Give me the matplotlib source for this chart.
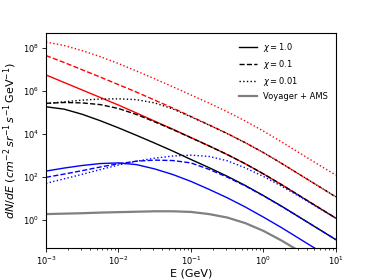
import numpy as np
import matplotlib
matplotlib.use('Agg')
import matplotlib.pyplot as plt

# energy grid, log10(E / GeV)
log_e = [-3.0, -2.75, -2.5, -2.25, -2.0, -1.75, -1.5, -1.25, -1.0,
         -0.75, -0.5, -0.25, 0.0, 0.25, 0.5, 0.75, 1.0]

# log10(dN/dE)
red_chi1 = [6.75, 6.40, 6.05, 5.70, 5.35, 4.98, 4.60, 4.23, 3.84,
            3.45, 3.05, 2.62, 2.15, 1.65, 1.13, 0.61, 0.09]
red_chi01 = [7.65, 7.33, 6.99, 6.65, 6.30, 5.95, 5.58, 5.21, 4.82,
             4.43, 4.03, 3.60, 3.14, 2.64, 2.12, 1.60, 1.08]
red_chi001 = [8.28, 8.12, 7.88, 7.60, 7.28, 6.93, 6.57, 6.20, 5.82,
              5.44, 5.04, 4.61, 4.14, 3.64, 3.12, 2.60, 2.09]

black_chi1 = [5.27, 5.16, 4.92, 4.62, 4.29, 3.94, 3.58, 3.21, 2.82,
              2.44, 2.04, 1.61, 1.14, 0.65, 0.13, -0.39, -0.91]
black_chi01 = [5.43, 5.47, 5.45, 5.37, 5.19, 4.91, 4.57, 4.21, 3.83,
               3.45, 3.05, 2.62, 2.15, 1.65, 1.13, 0.61, 0.09]
black_chi001 = [5.42, 5.50, 5.58, 5.63, 5.64, 5.60, 5.45, 5.17, 4.80,
                4.42, 4.02, 3.60, 3.14, 2.64, 2.12, 1.60, 1.08]

blue_chi1 = [2.28, 2.42, 2.54, 2.63, 2.66, 2.58, 2.38, 2.12, 1.80,
             1.43, 1.04, 0.61, 0.14, -0.35, -0.87, -1.39, -1.91]
blue_chi01 = [1.99, 2.14, 2.30, 2.47, 2.62, 2.74, 2.79, 2.77, 2.66,
              2.36, 2.00, 1.59, 1.13, 0.64, 0.13, -0.39, -0.91]
blue_chi001 = [1.71, 1.92, 2.13, 2.35, 2.56, 2.74, 2.88, 2.98, 3.02,
               2.96, 2.76, 2.43, 2.03, 1.58, 1.09, 0.59, 0.08]

voyager_ams = [0.28, 0.30, 0.32, 0.35, 0.37, 0.39, 0.41, 0.41, 0.38,
               0.28, 0.12, -0.14, -0.50, -0.95, -1.45, -1.95, -2.45]

y_ticks = [1e0, 1e2, 1e4, 1e6, 1e8]

energy = 10.0 ** np.array(log_e)


def flux(vals):
    return 10.0 ** np.array(vals)


fig = plt.figure(figsize=(3.74, 2.8), dpi=100)
ax = fig.add_axes([0.123, 0.114, 0.775, 0.768])

lw = 1.0
styles = ['-', '--', ':']
for color, curves in [('r', [red_chi1, red_chi01, red_chi001]),
                      ('k', [black_chi1, black_chi01, black_chi001]),
                      ('b', [blue_chi1, blue_chi01, blue_chi001])]:
    for ls, c in zip(styles, curves):
        ax.plot(energy, flux(c), color=color, ls=ls, lw=lw)

ax.plot(energy, flux(voyager_ams), color='gray', lw=1.6)

# legend proxies
ax.plot([], [], 'k-', lw=lw, label=r'$\chi = 1.0$')
ax.plot([], [], 'k--', lw=lw, label=r'$\chi = 0.1$')
ax.plot([], [], 'k:', lw=lw, label=r'$\chi = 0.01$')
ax.plot([], [], color='gray', lw=1.6, label='Voyager + AMS')

ax.set_xscale('log')
ax.set_yscale('log')
ax.set_xlim(1e-3, 10)
ax.set_yticks(y_ticks)
ax.set_ylim(5e-2, 5e8)

ax.set_xlabel('E (GeV)', fontsize=8, labelpad=1)
ax.set_ylabel(r'$dN/dE\ (cm^{-2}\, sr^{-1}\, s^{-1}\, {\rm GeV}^{-1})$',
              fontsize=8, labelpad=3)
ax.tick_params(labelsize=6, length=3, width=0.6, pad=2)
ax.tick_params(which='minor', length=1.5, width=0.5)
for s in ax.spines.values():
    s.set_linewidth(0.8)

ax.legend(loc='upper right', frameon=False, fontsize=6, handlelength=2.1)

fig.savefig('out.png', dpi=100)
